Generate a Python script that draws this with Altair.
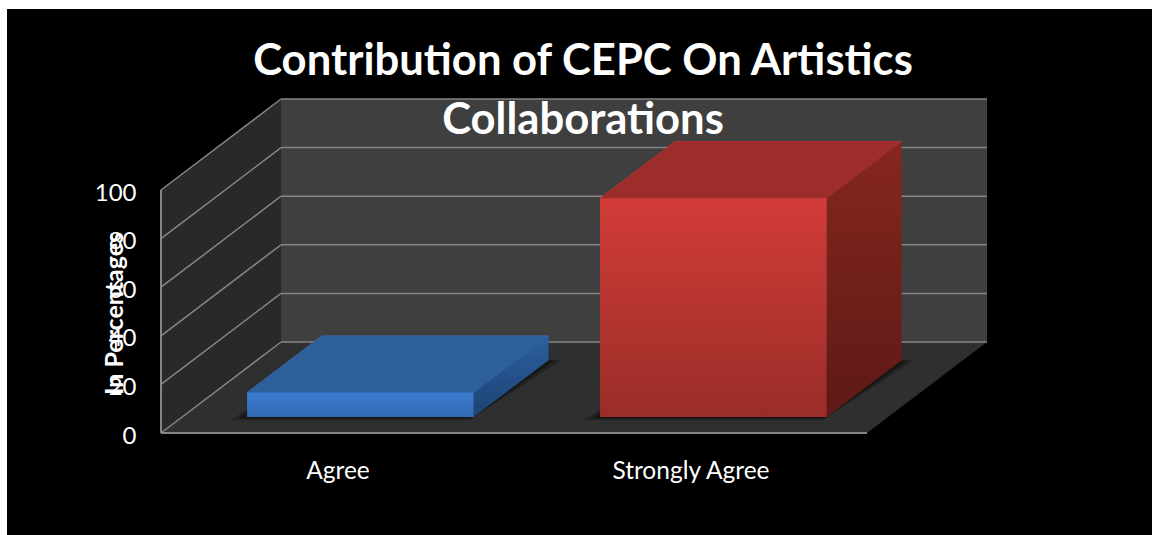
import altair as alt
import pandas as pd

# Chart values
categories = ["Agree", "Strongly Agree"]
percentages = [10, 90]
value_ticks = [0, 20, 40, 60, 80, 100]
chart_title = ["Contribution of CEPC On Artistics", "Collaborations"]
value_title = "In Percentages"

# Oblique 3D box: one full depth unit moves right and up by these amounts
DEPTH_X = 0.34
DEPTH_Y = 37.45
FLOOR_LEN = 2.0
BAR_HALF = 0.321
BAR_SHIFT = 0.005
BAR_D0 = 0.176
BAR_D1 = 0.80

PLOT_W, PLOT_H = 826, 334
FONT = "Lato"

x_scale = alt.Scale(domain=[0, FLOOR_LEN + DEPTH_X], range=[0, PLOT_W], nice=False, zero=False)
y_scale = alt.Scale(domain=[0, 100 + DEPTH_Y], range=[PLOT_H, 0], nice=False, zero=False)

x_axis = alt.Axis(
    values=[i + 0.5 for i in range(len(categories))],
    labelExpr=f"datum.value < 1 ? '{categories[0]}' : '{categories[1]}'",
    domain=False, ticks=False, grid=False, labelFont=FONT, labelFontSize=24.5,
    labelColor="#ffffff", labelPadding=26, zindex=1, labelFlush=False, labelOverlap=False,
)
y_axis = alt.Axis(
    values=value_ticks, domain=False, ticks=False, grid=False, labelFont=FONT,
    labelFontSize=24, labelColor="#ffffff", labelPadding=25, labelOffset=3, zindex=1,
    titleFont=FONT, titleFontSize=25, titleFontWeight="bold", titleColor="#ffffff",
    titleAngle=-90, titleAlign="center", titleBaseline="middle", titleX=-47, titleY=214,
)


def X(field="x"):
    return alt.X(f"{field}:Q", scale=x_scale, axis=x_axis, title=None)


def Y(field="y"):
    return alt.Y(f"{field}:Q", scale=y_scale, axis=y_axis, title=value_title)


def px(u, d):
    return u + DEPTH_X * d


def py(v, d):
    return v + DEPTH_Y * d


def vertical_face(points, fill, **kw):
    """Face whose top and bottom edges run between x positions."""
    return alt.Chart(pd.DataFrame(points)).mark_area(
        orient="vertical", fill=fill, clip=False, **kw
    ).encode(x=X(), y=Y(), y2=alt.Y2("y2:Q"))


def horizontal_face(points, fill, **kw):
    """Face whose left and right edges run between y positions."""
    return alt.Chart(pd.DataFrame(points)).mark_area(
        orient="horizontal", fill=fill, clip=False, **kw
    ).encode(y=Y(), x=X(), x2=alt.X2("x2:Q"))


def segment(x0, y0, x1, y1, color="#858585", width=1.5):
    return alt.Chart(pd.DataFrame({"x": [x0, x1], "y": [y0, y1]})).mark_line(
        color=color, strokeWidth=width, clip=False
    ).encode(x=X(), y=Y())


def gradient(top, bottom):
    return alt.Gradient(
        gradient="linear", x1=0, x2=0, y1=0, y2=1,
        stops=[alt.GradientStop(offset=0, color=top), alt.GradientStop(offset=1, color=bottom)],
    )


# Black panel inside the page's white margin
panel = alt.Chart(pd.DataFrame({"a": [0]})).mark_rect(color="#000000", clip=False).encode(
    x=alt.value(7 - 161), x2=alt.value(1152 - 161), y=alt.value(9 - 99), y2=alt.value(535 - 99)
)

back_wall = vertical_face(
    [{"x": px(0, 1), "y": py(0, 1), "y2": py(100, 1)}, {"x": px(FLOOR_LEN, 1), "y": py(0, 1), "y2": py(100, 1)}],
    "#3f3f3f",
)
side_wall = vertical_face(
    [{"x": px(0, 0), "y": py(0, 0), "y2": py(100, 0)}, {"x": px(0, 1), "y": py(0, 1), "y2": py(100, 1)}],
    "#292929",
)
floor = horizontal_face(
    [{"y": py(0, 0), "x": px(0, 0), "x2": px(FLOOR_LEN, 0)}, {"y": py(0, 1), "x": px(0, 1), "x2": px(FLOOR_LEN, 1)}],
    "#2f2f2f",
)

layers = [panel, back_wall, side_wall, floor]

# Gridlines on both walls
for v in value_ticks:
    layers.append(segment(px(0, 0), py(v, 0), px(0, 1), py(v, 1)))
    layers.append(segment(px(0, 1), py(v, 1), px(FLOOR_LEN, 1), py(v, 1)))
layers.append(segment(px(0, 0), py(0, 0), px(0, 0), py(100, 0), width=2))
layers.append(segment(px(0, 0), py(0, 0), px(FLOOR_LEN, 0), py(0, 0), width=2))

# Bars as three visible faces each
styles = [
    {"front": ("#3b7dd2", "#3268b2"), "side": ("#2b5f9f", "#1d4373"), "top": "#2d5f9a", "edge": "#336cb0"},
    {"front": ("#d23c38", "#9a2d28"), "side": ("#86271f", "#5e1916"), "top": "#9c2d2a", "edge": "#ad322d"},
]
for i, (value, style) in enumerate(zip(percentages, styles)):
    centre = i + 0.5 + BAR_SHIFT
    u0, u1 = centre - BAR_HALF, centre + BAR_HALF

    # Soft contact shadow on the floor
    for spread, alpha in [(0.035, 0.25), (0.018, 0.35)]:
        layers.append(horizontal_face(
            [
                {"y": py(0, BAR_D0 - spread), "x": px(u0 - spread, BAR_D0 - spread), "x2": px(u1, BAR_D0 - spread)},
                {"y": py(0, BAR_D1), "x": px(u0, BAR_D1), "x2": px(u1 + spread, BAR_D1)},
            ],
            "#000000", opacity=alpha,
        ))

    layers.append(horizontal_face(
        [
            {"y": py(value, BAR_D0), "x": px(u0, BAR_D0), "x2": px(u1, BAR_D0)},
            {"y": py(value, BAR_D1), "x": px(u0, BAR_D1), "x2": px(u1, BAR_D1)},
        ],
        style["top"], stroke=style["edge"], strokeWidth=1,
    ))
    layers.append(vertical_face(
        [
            {"x": px(u1, BAR_D0), "y": py(0, BAR_D0), "y2": py(value, BAR_D0)},
            {"x": px(u1, BAR_D1), "y": py(0, BAR_D1), "y2": py(value, BAR_D1)},
        ],
        gradient(*style["side"]),
    ))
    layers.append(vertical_face(
        [
            {"x": px(u0, BAR_D0), "y": py(0, BAR_D0), "y2": py(value, BAR_D0)},
            {"x": px(u1, BAR_D0), "y": py(0, BAR_D0), "y2": py(value, BAR_D0)},
        ],
        gradient(*style["front"]),
    ))

chart = alt.layer(*layers).properties(
    width=PLOT_W,
    height=PLOT_H,
    padding={"left": 161, "top": 99, "right": 165, "bottom": 102},
    autosize=alt.AutoSizeParams(type="none"),
    background="#ffffff",
    title=alt.TitleParams(
        text=chart_title, font=FONT, fontSize=43.6, fontWeight="bold", color="#ffffff",
        anchor="middle", frame="group", dx=9, dy=139, lineHeight=59,
    ),
).configure_view(stroke=None)

chart.save("out.html", embed_options={"renderer": "svg", "actions": False})
